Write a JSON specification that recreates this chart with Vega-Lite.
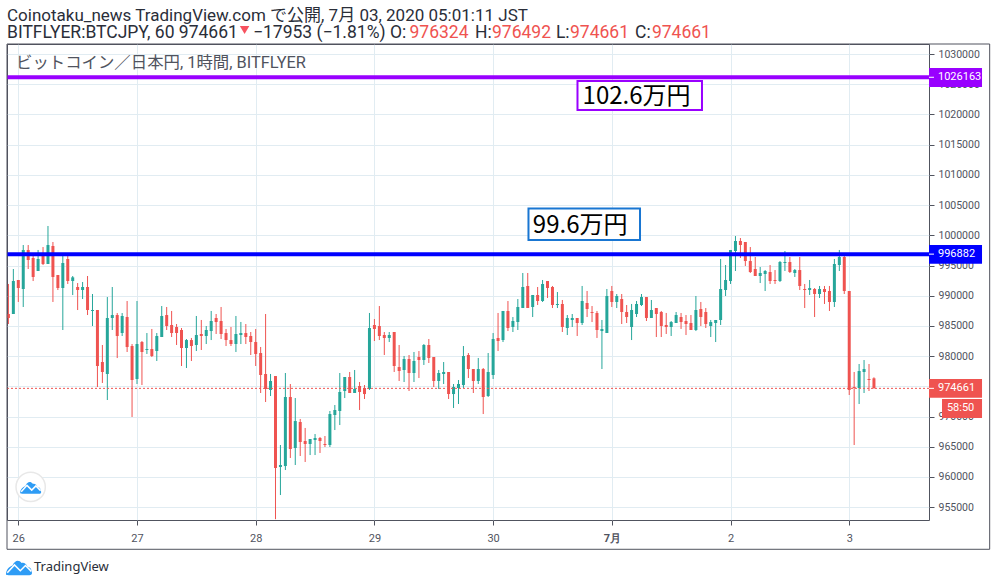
{
  "$schema": "https://vega.github.io/schema/vega-lite/v6.json",
  "width": 922,
  "height": 476,
  "autosize": {"type": "none"},
  "padding": {"left": 7, "top": 44, "right": 67, "bottom": 66},
  "background": "#ffffff",
  "config": {
    "view": {"stroke": "#50535e", "strokeWidth": 1},
    "text": {"font": "Roboto, Noto Sans CJK JP"}
  },
  "datasets": {
    "candles": [
      {"hour": -2, "open": 986970, "high": 991940, "low": 985310, "close": 986310},
      {"hour": -1, "open": 986970, "high": 994420, "low": 986970, "close": 992430},
      {"hour": 0, "open": 992600, "high": 992600, "low": 988960, "close": 991270},
      {"hour": 1, "open": 991110, "high": 998390, "low": 988130, "close": 997570},
      {"hour": 2, "open": 997570, "high": 998390, "low": 994420, "close": 995910},
      {"hour": 3, "open": 996240, "high": 996570, "low": 992430, "close": 993100},
      {"hour": 4, "open": 994090, "high": 997570, "low": 994090, "close": 996080},
      {"hour": 5, "open": 996740, "high": 998060, "low": 995080, "close": 995250},
      {"hour": 6, "open": 995250, "high": 1001540, "low": 995250, "close": 998390},
      {"hour": 7, "open": 998230, "high": 998890, "low": 988960, "close": 993100},
      {"hour": 8, "open": 993430, "high": 993430, "low": 990940, "close": 991270},
      {"hour": 9, "open": 991270, "high": 996740, "low": 984320, "close": 995410},
      {"hour": 10, "open": 996080, "high": 996740, "low": 991940, "close": 992430},
      {"hour": 11, "open": 992430, "high": 993260, "low": 990110, "close": 993040},
      {"hour": 12, "open": 991440, "high": 992100, "low": 987630, "close": 990940},
      {"hour": 13, "open": 990940, "high": 992270, "low": 989450, "close": 991440},
      {"hour": 14, "open": 991440, "high": 993260, "low": 986800, "close": 987630},
      {"hour": 15, "open": 987470, "high": 990280, "low": 984980, "close": 987630},
      {"hour": 16, "open": 987630, "high": 987630, "low": 974880, "close": 978360},
      {"hour": 17, "open": 979020, "high": 981840, "low": 975550, "close": 977370},
      {"hour": 18, "open": 977040, "high": 989780, "low": 972730, "close": 986310},
      {"hour": 19, "open": 986310, "high": 991440, "low": 984320, "close": 986800},
      {"hour": 20, "open": 986800, "high": 987130, "low": 979680, "close": 983330},
      {"hour": 21, "open": 983820, "high": 987130, "low": 983330, "close": 986640},
      {"hour": 22, "open": 986470, "high": 989120, "low": 980680, "close": 981500},
      {"hour": 23, "open": 981670, "high": 982000, "low": 969920, "close": 976040},
      {"hour": 24, "open": 976210, "high": 989120, "low": 975380, "close": 982000},
      {"hour": 25, "open": 982330, "high": 982500, "low": 975210, "close": 980680},
      {"hour": 26, "open": 981010, "high": 983820, "low": 980350, "close": 981170},
      {"hour": 27, "open": 981170, "high": 984490, "low": 979850, "close": 980020},
      {"hour": 28, "open": 980840, "high": 983820, "low": 979190, "close": 983330},
      {"hour": 29, "open": 983160, "high": 988290, "low": 983160, "close": 986640},
      {"hour": 30, "open": 986800, "high": 988130, "low": 984320, "close": 984980},
      {"hour": 31, "open": 985150, "high": 987470, "low": 983160, "close": 983820},
      {"hour": 32, "open": 984820, "high": 985310, "low": 981840, "close": 983820},
      {"hour": 33, "open": 984320, "high": 984650, "low": 978360, "close": 981340},
      {"hour": 34, "open": 981340, "high": 982830, "low": 978030, "close": 982660},
      {"hour": 35, "open": 982660, "high": 983000, "low": 979190, "close": 981670},
      {"hour": 36, "open": 981840, "high": 986640, "low": 980840, "close": 983490},
      {"hour": 37, "open": 983660, "high": 985980, "low": 981010, "close": 983330},
      {"hour": 38, "open": 983330, "high": 984980, "low": 982000, "close": 984320},
      {"hour": 39, "open": 984150, "high": 987470, "low": 982660, "close": 985810},
      {"hour": 40, "open": 986310, "high": 986970, "low": 983660, "close": 985640},
      {"hour": 41, "open": 985810, "high": 988130, "low": 982830, "close": 983660},
      {"hour": 42, "open": 983820, "high": 984490, "low": 981670, "close": 982660},
      {"hour": 43, "open": 982660, "high": 984820, "low": 981670, "close": 982000},
      {"hour": 44, "open": 982000, "high": 986640, "low": 980680, "close": 983660},
      {"hour": 45, "open": 983490, "high": 985650, "low": 982000, "close": 983820},
      {"hour": 46, "open": 983820, "high": 985310, "low": 982000, "close": 983160},
      {"hour": 47, "open": 983330, "high": 983990, "low": 980180, "close": 982330},
      {"hour": 48, "open": 982330, "high": 984490, "low": 978360, "close": 980350},
      {"hour": 49, "open": 980510, "high": 981510, "low": 973890, "close": 976870},
      {"hour": 50, "open": 977040, "high": 986970, "low": 972400, "close": 974550},
      {"hour": 51, "open": 974390, "high": 977040, "low": 973390, "close": 975880},
      {"hour": 52, "open": 976700, "high": 976700, "low": 953000, "close": 961470},
      {"hour": 53, "open": 961640, "high": 965280, "low": 957000, "close": 961970},
      {"hour": 54, "open": 961800, "high": 977200, "low": 961140, "close": 973230},
      {"hour": 55, "open": 973230, "high": 975380, "low": 963130, "close": 964620},
      {"hour": 56, "open": 964780, "high": 973060, "low": 961970, "close": 969250},
      {"hour": 57, "open": 969090, "high": 969590, "low": 963460, "close": 965780},
      {"hour": 58, "open": 965940, "high": 968100, "low": 962470, "close": 965450},
      {"hour": 59, "open": 965450, "high": 966270, "low": 963620, "close": 966270},
      {"hour": 60, "open": 966110, "high": 967100, "low": 963620, "close": 966440},
      {"hour": 61, "open": 966440, "high": 966600, "low": 963960, "close": 965940},
      {"hour": 62, "open": 965450, "high": 966770, "low": 964950, "close": 965280},
      {"hour": 63, "open": 965280, "high": 970910, "low": 964950, "close": 970410},
      {"hour": 64, "open": 970250, "high": 971900, "low": 967760, "close": 971080},
      {"hour": 65, "open": 970910, "high": 977200, "low": 968590, "close": 974060},
      {"hour": 66, "open": 974220, "high": 976540, "low": 973060, "close": 976540},
      {"hour": 67, "open": 976540, "high": 977370, "low": 973890, "close": 973890},
      {"hour": 68, "open": 973890, "high": 977700, "low": 973890, "close": 974550},
      {"hour": 69, "open": 975050, "high": 975710, "low": 971080, "close": 974060},
      {"hour": 70, "open": 974720, "high": 975210, "low": 972900, "close": 973720},
      {"hour": 71, "open": 974550, "high": 987140, "low": 974390, "close": 984650},
      {"hour": 72, "open": 985150, "high": 986140, "low": 982500, "close": 984490},
      {"hour": 73, "open": 984980, "high": 988290, "low": 982660, "close": 983330},
      {"hour": 74, "open": 983490, "high": 983990, "low": 980180, "close": 983000},
      {"hour": 75, "open": 983000, "high": 983990, "low": 982330, "close": 983490},
      {"hour": 76, "open": 983990, "high": 983990, "low": 977370, "close": 978360},
      {"hour": 77, "open": 978190, "high": 981840, "low": 975880, "close": 977530},
      {"hour": 78, "open": 977700, "high": 980020, "low": 975710, "close": 979520},
      {"hour": 79, "open": 979520, "high": 980180, "low": 974220, "close": 977200},
      {"hour": 80, "open": 977200, "high": 980680, "low": 975710, "close": 979190},
      {"hour": 81, "open": 979850, "high": 980840, "low": 976370, "close": 979350},
      {"hour": 82, "open": 979350, "high": 982000, "low": 978530, "close": 981840},
      {"hour": 83, "open": 981840, "high": 982830, "low": 978860, "close": 979690},
      {"hour": 84, "open": 979850, "high": 979850, "low": 974880, "close": 975880},
      {"hour": 85, "open": 975880, "high": 977700, "low": 974550, "close": 977200},
      {"hour": 86, "open": 977040, "high": 979020, "low": 975380, "close": 977370},
      {"hour": 87, "open": 977370, "high": 977370, "low": 972900, "close": 973720},
      {"hour": 88, "open": 973720, "high": 975380, "low": 971410, "close": 974880},
      {"hour": 89, "open": 974720, "high": 976040, "low": 972070, "close": 975380},
      {"hour": 90, "open": 975210, "high": 981670, "low": 974720, "close": 980020},
      {"hour": 91, "open": 980180, "high": 980510, "low": 976370, "close": 977860},
      {"hour": 92, "open": 977860, "high": 977860, "low": 973890, "close": 975880},
      {"hour": 93, "open": 975880, "high": 979690, "low": 975380, "close": 977860},
      {"hour": 94, "open": 977860, "high": 978030, "low": 970410, "close": 973230},
      {"hour": 95, "open": 973390, "high": 980510, "low": 973230, "close": 977370},
      {"hour": 96, "open": 976870, "high": 983820, "low": 976210, "close": 982830},
      {"hour": 97, "open": 983000, "high": 987140, "low": 980840, "close": 982500},
      {"hour": 98, "open": 982660, "high": 987470, "low": 982330, "close": 987470},
      {"hour": 99, "open": 987470, "high": 989120, "low": 984150, "close": 984650},
      {"hour": 100, "open": 984820, "high": 986470, "low": 983990, "close": 985810},
      {"hour": 101, "open": 985640, "high": 989450, "low": 984320, "close": 988130},
      {"hour": 102, "open": 987960, "high": 993760, "low": 987960, "close": 991440},
      {"hour": 103, "open": 991610, "high": 993760, "low": 987960, "close": 987960},
      {"hour": 104, "open": 988130, "high": 990120, "low": 986470, "close": 990120},
      {"hour": 105, "open": 990120, "high": 991440, "low": 988460, "close": 989120},
      {"hour": 106, "open": 989120, "high": 992600, "low": 988960, "close": 991940},
      {"hour": 107, "open": 992430, "high": 992430, "low": 989620, "close": 991270},
      {"hour": 108, "open": 991440, "high": 991610, "low": 987960, "close": 988460},
      {"hour": 109, "open": 988460, "high": 990610, "low": 987960, "close": 988630},
      {"hour": 110, "open": 988630, "high": 989290, "low": 983990, "close": 984820},
      {"hour": 111, "open": 984650, "high": 986800, "low": 983490, "close": 986310},
      {"hour": 112, "open": 985980, "high": 986970, "low": 984820, "close": 986310},
      {"hour": 113, "open": 986310, "high": 986310, "low": 983330, "close": 985480},
      {"hour": 114, "open": 985480, "high": 991610, "low": 985150, "close": 989120},
      {"hour": 115, "open": 988790, "high": 990780, "low": 986470, "close": 987800},
      {"hour": 116, "open": 987300, "high": 988290, "low": 985640, "close": 987140},
      {"hour": 117, "open": 987140, "high": 987470, "low": 983000, "close": 984320},
      {"hour": 118, "open": 984150, "high": 985980, "low": 977860, "close": 984490},
      {"hour": 119, "open": 983820, "high": 991110, "low": 983820, "close": 989950},
      {"hour": 120, "open": 990780, "high": 991610, "low": 988130, "close": 988960},
      {"hour": 121, "open": 988960, "high": 990280, "low": 987960, "close": 989950},
      {"hour": 122, "open": 989450, "high": 990280, "low": 985310, "close": 987300},
      {"hour": 123, "open": 987300, "high": 988460, "low": 985480, "close": 986470},
      {"hour": 124, "open": 984820, "high": 988630, "low": 982660, "close": 987630},
      {"hour": 125, "open": 986970, "high": 989120, "low": 986470, "close": 988630},
      {"hour": 126, "open": 988460, "high": 990280, "low": 988290, "close": 989780},
      {"hour": 127, "open": 989780, "high": 989780, "low": 985810, "close": 986310},
      {"hour": 128, "open": 986310, "high": 989290, "low": 986310, "close": 987630},
      {"hour": 129, "open": 987960, "high": 987960, "low": 983160, "close": 986970},
      {"hour": 130, "open": 987300, "high": 987470, "low": 983160, "close": 984980},
      {"hour": 131, "open": 985150, "high": 987140, "low": 983660, "close": 984820},
      {"hour": 132, "open": 984820, "high": 985810, "low": 983330, "close": 985640},
      {"hour": 133, "open": 985480, "high": 987300, "low": 985480, "close": 986800},
      {"hour": 134, "open": 986470, "high": 987140, "low": 984490, "close": 985640},
      {"hour": 135, "open": 985810, "high": 986800, "low": 983490, "close": 985310},
      {"hour": 136, "open": 985480, "high": 986800, "low": 984320, "close": 984320},
      {"hour": 137, "open": 984320, "high": 989950, "low": 984150, "close": 987630},
      {"hour": 138, "open": 987800, "high": 988960, "low": 984980, "close": 986470},
      {"hour": 139, "open": 987300, "high": 987960, "low": 984650, "close": 985310},
      {"hour": 140, "open": 984980, "high": 985980, "low": 983160, "close": 985640},
      {"hour": 141, "open": 985480, "high": 985980, "low": 982330, "close": 985980},
      {"hour": 142, "open": 985980, "high": 996080, "low": 985150, "close": 991110},
      {"hour": 143, "open": 990940, "high": 995080, "low": 989950, "close": 992600},
      {"hour": 144, "open": 992430, "high": 997570, "low": 991940, "close": 997570},
      {"hour": 145, "open": 997400, "high": 999880, "low": 994090, "close": 999060},
      {"hour": 146, "open": 999060, "high": 999550, "low": 996240, "close": 998390},
      {"hour": 147, "open": 998890, "high": 998890, "low": 994920, "close": 995740},
      {"hour": 148, "open": 995740, "high": 998060, "low": 993760, "close": 993920},
      {"hour": 149, "open": 994420, "high": 996410, "low": 993260, "close": 993260},
      {"hour": 150, "open": 993260, "high": 994750, "low": 992100, "close": 993760},
      {"hour": 151, "open": 993590, "high": 994250, "low": 990780, "close": 994090},
      {"hour": 152, "open": 993920, "high": 995080, "low": 991940, "close": 992430},
      {"hour": 153, "open": 992600, "high": 994250, "low": 991940, "close": 992430},
      {"hour": 154, "open": 992430, "high": 995740, "low": 992270, "close": 995580},
      {"hour": 155, "open": 995410, "high": 997400, "low": 994090, "close": 995580},
      {"hour": 156, "open": 995580, "high": 996410, "low": 993760, "close": 993920},
      {"hour": 157, "open": 993760, "high": 994420, "low": 993100, "close": 994250},
      {"hour": 158, "open": 994250, "high": 996410, "low": 990940, "close": 991610},
      {"hour": 159, "open": 991110, "high": 991940, "low": 987960, "close": 990940},
      {"hour": 160, "open": 990940, "high": 992600, "low": 990120, "close": 991270},
      {"hour": 161, "open": 991110, "high": 991270, "low": 986470, "close": 990280},
      {"hour": 162, "open": 990280, "high": 991610, "low": 989620, "close": 991110},
      {"hour": 163, "open": 991110, "high": 991610, "low": 988630, "close": 990610},
      {"hour": 164, "open": 990780, "high": 991610, "low": 987470, "close": 988960},
      {"hour": 165, "open": 988960, "high": 996080, "low": 988130, "close": 995250},
      {"hour": 166, "open": 995080, "high": 997570, "low": 994090, "close": 996410},
      {"hour": 167, "open": 996410, "high": 996570, "low": 990280, "close": 990780},
      {"hour": 168, "open": 990780, "high": 990780, "low": 973560, "close": 974390},
      {"hour": 169, "open": 974880, "high": 977370, "low": 965280, "close": 974720},
      {"hour": 170, "open": 974720, "high": 978690, "low": 972070, "close": 977530},
      {"hour": 171, "open": 977370, "high": 979350, "low": 973890, "close": 977860},
      {"hour": 172, "open": 976210, "high": 978690, "low": 974220, "close": 976040},
      {"hour": 173, "open": 976324, "high": 976492, "low": 974661, "close": 974661}
    ]
  },
  "layer": [
    {
      "data": {"name": "candles"},
      "mark": {"type": "rule", "strokeWidth": 1},
      "encoding": {
        "x": {
          "field": "hour",
          "type": "quantitative",
          "title": null,
          "scale": {"domain": [-2.285, 184.13], "nice": false, "zero": false, "padding": 0},
          "axis": {
            "values": [0, 24, 48, 72, 96, 120, 144, 168],
            "labelExpr": "datum.value == 120 ? '7月' : datum.value == 144 ? '2' : datum.value == 168 ? '3' : format(26 + datum.value / 24, 'd')",
            "labelFontWeight": {"condition": {"test": "datum.value == 120", "value": "bold"}, "value": "normal"},
            "labelFont": "Roboto",
            "labelFontSize": 11,
            "labelColor": "#50535e",
            "labelPadding": 7,
            "labelOverlap": false,
            "tickColor": "#50535e",
            "tickSize": 5,
            "domain": false,
            "gridColor": "#e1ecf2",
            "labelFlush": false
          }
        },
        "y": {
          "field": "low",
          "type": "quantitative",
          "title": null,
          "scale": {"domain": [952865, 1031672], "nice": false, "zero": false},
          "axis": {
            "orient": "right",
            "values": [955000, 960000, 965000, 970000, 975000, 980000, 985000, 990000, 995000, 1000000, 1005000, 1010000, 1015000, 1020000, 1025000, 1030000],
            "tickCount": 20,
            "format": "d",
            "labelFont": "Roboto",
            "labelFontSize": 10.5,
            "labelColor": "#50535e",
            "labelPadding": 4,
            "labelOverlap": false,
            "tickColor": "#50535e",
            "tickSize": 5,
            "domain": false,
            "gridColor": "#e1ecf2"
          }
        },
        "y2": {"field": "high"},
        "color": {"condition": {"test": "datum.close >= datum.open", "value": "#26a69a"}, "value": "#ef5350"}
      }
    },
    {
      "data": {"name": "candles"},
      "mark": {"type": "bar", "size": 3, "orient": "vertical"},
      "encoding": {
        "x": {"field": "hour", "type": "quantitative"},
        "y": {"field": "open", "type": "quantitative"},
        "y2": {"field": "close"},
        "color": {"condition": {"test": "datum.close >= datum.open", "value": "#26a69a"}, "value": "#ef5350"}
      }
    },
    {
      "data": {"values": [{"price": 1026163}]},
      "mark": {"type": "rule", "strokeWidth": 4, "color": "#9900ff"},
      "encoding": {"y": {"field": "price", "type": "quantitative"}}
    },
    {
      "data": {"values": [{"price": 996882}]},
      "mark": {"type": "rule", "strokeWidth": 4, "color": "#0000ff"},
      "encoding": {"y": {"field": "price", "type": "quantitative"}}
    },
    {
      "data": {"values": [{"price": 974661}]},
      "mark": {"type": "rule", "strokeWidth": 1, "color": "#ef5350", "strokeDash": [2, 2]},
      "encoding": {"y": {"field": "price", "type": "quantitative"}}
    },
    {
      "data": {"values": [{"hour": -2.285, "hour2": 196.4, "price": 1031672, "price2": 948015}]},
      "mark": {"type": "rect", "fill": null, "stroke": "#50535e", "strokeWidth": 1, "clip": false},
      "encoding": {
        "x": {"field": "hour", "type": "quantitative"},
        "x2": {"field": "hour2"},
        "y": {"field": "price", "type": "quantitative"},
        "y2": {"field": "price2"}
      }
    },
    {
      "data": {"values": [
        {"box": "high", "hour": 113.06, "hour2": 138.23, "price": 1025546, "price2": 1020745},
        {"box": "low", "hour": 103.15, "hour2": 125.7, "price": 1004437, "price2": 999222}
      ]},
      "mark": {"type": "rect", "fill": "#ffffff", "strokeWidth": 2},
      "encoding": {
        "x": {"field": "hour", "type": "quantitative"},
        "x2": {"field": "hour2"},
        "y": {"field": "price", "type": "quantitative"},
        "y2": {"field": "price2"},
        "stroke": {"field": "box", "type": "nominal", "legend": null, "scale": {"domain": ["high", "low"], "range": ["#9900ff", "#1976d2"]}}
      }
    },
    {
      "data": {"values": [
        {"label": "102.6万円", "hour": 125, "price": 1021738},
        {"label": "99.6万円", "hour": 113.6, "price": 1000381}
      ]},
      "mark": {"type": "text", "font": "Noto Sans CJK JP", "fontSize": 24, "color": "#000000", "align": "center", "baseline": "alphabetic"},
      "encoding": {
        "x": {"field": "hour", "type": "quantitative"},
        "y": {"field": "price", "type": "quantitative"},
        "text": {"field": "label"}
      }
    },
    {
      "data": {"values": [
        {"tag": "high", "hour": 184.13, "hour2": 194.85, "price": 1027698, "price2": 1024552},
        {"tag": "low", "hour": 184.13, "hour2": 194.85, "price": 998394, "price2": 995298},
        {"tag": "last", "hour": 184.13, "hour2": 194.85, "price": 976209, "price2": 973113},
        {"tag": "last", "hour": 186.76, "hour2": 194.85, "price": 972899, "price2": 969753}
      ]},
      "mark": {"type": "rect", "clip": false},
      "encoding": {
        "x": {"field": "hour", "type": "quantitative"},
        "x2": {"field": "hour2"},
        "y": {"field": "price", "type": "quantitative"},
        "y2": {"field": "price2"},
        "color": {"field": "tag", "type": "nominal", "legend": null, "scale": {"domain": ["high", "low", "last"], "range": ["#9900ff", "#0000ff", "#ef5350"]}}
      }
    },
    {
      "data": {"values": [
        {"hour": 184.13, "hour2": 185.14, "price": 1026163},
        {"hour": 184.13, "hour2": 185.14, "price": 996882},
        {"hour": 184.13, "hour2": 185.14, "price": 974661}
      ]},
      "mark": {"type": "rule", "strokeWidth": 1, "color": "#ffffff", "clip": false},
      "encoding": {
        "x": {"field": "hour", "type": "quantitative"},
        "x2": {"field": "hour2"},
        "y": {"field": "price", "type": "quantitative"}
      }
    },
    {
      "data": {"values": [
        {"label": "1026163", "hour": 185.95, "price": 1026163},
        {"label": "996882", "hour": 185.95, "price": 996882},
        {"label": "974661", "hour": 185.95, "price": 974661},
        {"label": "58:50", "hour": 187.75, "price": 971326}
      ]},
      "mark": {"type": "text", "font": "Roboto", "fontSize": 11, "color": "#ffffff", "align": "left", "baseline": "middle"},
      "encoding": {
        "x": {"field": "hour", "type": "quantitative"},
        "y": {"field": "price", "type": "quantitative"},
        "text": {"field": "label"}
      }
    },
    {
      "data": {"values": [
        {"label": "Coinotaku_news TradingView.com で公開, 7月 03, 2020 05:01:11 JST", "hour": -2.285, "price": 1035480}
      ]},
      "mark": {"type": "text", "fontSize": 17, "color": "#2a2e39", "align": "left", "baseline": "alphabetic"},
      "encoding": {
        "x": {"field": "hour", "type": "quantitative"},
        "y": {"field": "price", "type": "quantitative"},
        "text": {"field": "label"}
      }
    },
    {
      "data": {"values": [
        {"label": "BITFLYER:BTCJPY, 60 974661", "hour": -2.285, "price": 1032665},
        {"label": "−17953 (−1.81%) O:", "hour": 47.45, "price": 1032665},
        {"label": "H:", "hour": 92.34, "price": 1032665},
        {"label": "L:", "hour": 108.7, "price": 1032665},
        {"label": "C:", "hour": 124.7, "price": 1032665}
      ]},
      "mark": {"type": "text", "fontSize": 17.5, "color": "#2a2e39", "align": "left", "baseline": "alphabetic"},
      "encoding": {
        "x": {"field": "hour", "type": "quantitative"},
        "y": {"field": "price", "type": "quantitative"},
        "text": {"field": "label"}
      }
    },
    {
      "data": {"values": [
        {"label": "976324", "hour": 79.1, "price": 1032665},
        {"label": "976492", "hour": 95.77, "price": 1032665},
        {"label": "974661", "hour": 111.55, "price": 1032665},
        {"label": "974661", "hour": 128.1, "price": 1032665}
      ]},
      "mark": {"type": "text", "fontSize": 17.5, "color": "#ef5350", "align": "left", "baseline": "alphabetic"},
      "encoding": {
        "x": {"field": "hour", "type": "quantitative"},
        "y": {"field": "price", "type": "quantitative"},
        "text": {"field": "label"}
      }
    },
    {
      "data": {"values": [{"hour": 45.75, "price": 1033990}]},
      "mark": {"type": "point", "shape": "triangle-down", "size": 90, "filled": true, "color": "#f7525f", "opacity": 1, "clip": false},
      "encoding": {
        "x": {"field": "hour", "type": "quantitative"},
        "y": {"field": "price", "type": "quantitative"}
      }
    },
    {
      "data": {"values": [{"label": "ビットコイン／日本円, 1時間, BITFLYER", "hour": -0.465, "price": 1027698}]},
      "mark": {"type": "text", "fontSize": 16.4, "color": "#50535e", "align": "left", "baseline": "alphabetic"},
      "encoding": {
        "x": {"field": "hour", "type": "quantitative"},
        "y": {"field": "price", "type": "quantitative"},
        "text": {"field": "label"}
      }
    },
    {
      "data": {"values": [{"hour": 2.5, "price": 958340}]},
      "mark": {"type": "point", "shape": "circle", "size": 860, "filled": true, "fill": "#ffffff", "stroke": "#e8e8e8", "strokeWidth": 1.5, "opacity": 1},
      "encoding": {
        "x": {"field": "hour", "type": "quantitative"},
        "y": {"field": "price", "type": "quantitative"}
      }
    },
    {
      "data": {"values": [{"logo": "chart", "hour": 2.5, "price": 958340}]},
      "mark": {"type": "point", "shape": "M-1 0.6C-1 0.2-0.75 0-0.5-0.1C-0.3-0.55 0-0.55 0.2-0.3C0.4-0.35 0.6-0.2 0.65 0C0.9 0 1 0.3 1 0.5C1 0.6 0.9 0.65 0.8 0.65L-0.8 0.65Z", "size": 441, "filled": true, "color": "#2e9cf5", "opacity": 1},
      "encoding": {
        "x": {"field": "hour", "type": "quantitative"},
        "y": {"field": "price", "type": "quantitative"}
      }
    },
    {
      "data": {"values": [{"logo": "chart", "hour": 2.5, "price": 958340}]},
      "mark": {"type": "point", "shape": "M-0.9 0.45L-0.35-0.15L0.1 0.3L0.5-0.1L0.95 0.35", "size": 441, "filled": false, "stroke": "#ffffff", "strokeWidth": 1.5, "opacity": 1},
      "encoding": {
        "x": {"field": "hour", "type": "quantitative"},
        "y": {"field": "price", "type": "quantitative"}
      }
    },
    {
      "data": {"values": [{"logo": "footer", "hour": 0.14, "price": 945110}]},
      "mark": {"type": "point", "shape": "M-1 0.6C-1 0.2-0.75 0-0.5-0.1C-0.3-0.55 0-0.55 0.2-0.3C0.4-0.35 0.6-0.2 0.65 0C0.9 0 1 0.3 1 0.5C1 0.6 0.9 0.65 0.8 0.65L-0.8 0.65Z", "size": 676, "filled": true, "color": "#2e9cf5", "opacity": 1, "clip": false},
      "encoding": {
        "x": {"field": "hour", "type": "quantitative"},
        "y": {"field": "price", "type": "quantitative"}
      }
    },
    {
      "data": {"values": [{"logo": "footer", "hour": 0.14, "price": 945110}]},
      "mark": {"type": "point", "shape": "M-0.9 0.45L-0.35-0.15L0.1 0.3L0.5-0.1L0.95 0.35", "size": 676, "filled": false, "stroke": "#ffffff", "strokeWidth": 1.5, "opacity": 1, "clip": false},
      "encoding": {
        "x": {"field": "hour", "type": "quantitative"},
        "y": {"field": "price", "type": "quantitative"}
      }
    },
    {
      "data": {"values": [{"label": "TradingView", "hour": 3.18, "price": 944400}]},
      "mark": {"type": "text", "font": "Noto Sans", "fontSize": 13, "color": "#2a2e39", "align": "left", "baseline": "alphabetic"},
      "encoding": {
        "x": {"field": "hour", "type": "quantitative"},
        "y": {"field": "price", "type": "quantitative"},
        "text": {"field": "label"}
      }
    }
  ]
}
